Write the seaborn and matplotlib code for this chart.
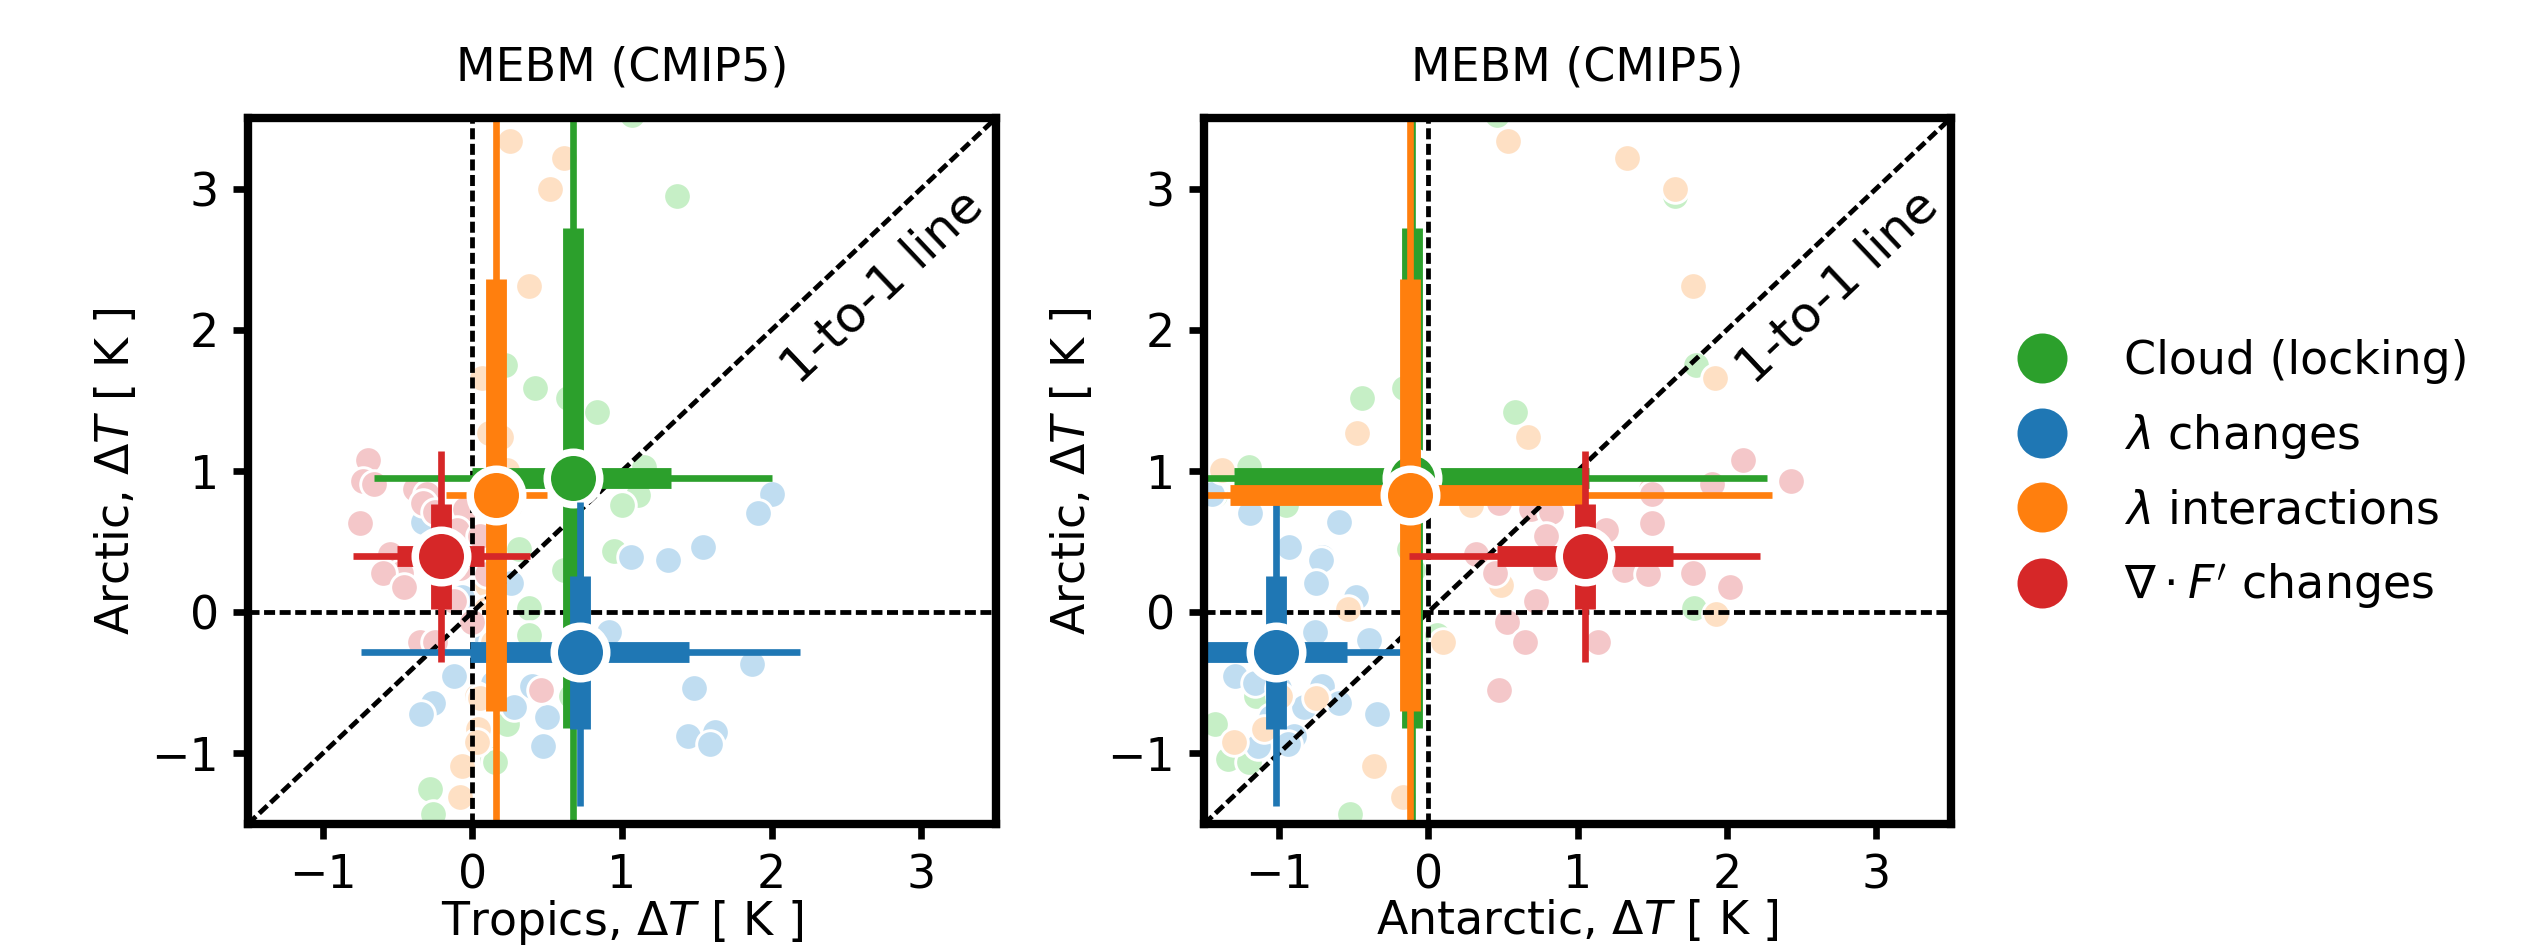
import numpy as np
import pandas as pd
import matplotlib
matplotlib.use("Agg")
import matplotlib.pyplot as plt
from matplotlib.lines import Line2D
import seaborn as sns

# ---------------- data ----------------
categories = ["Cloud (locking)", r"$\lambda$ changes", r"$\lambda$ interactions",
              r"$\nabla\cdot F'$ changes"]
colors = ["#2ca02c", "#1f77b4", "#ff7f0e", "#d62728"]
light_colors = ["#c6efc6", "#c0ddf1", "#fee0c4", "#f4c7c9"]

# individual models (Arctic, Tropics, Antarctic)
cloud_arc = [3.52, 2.95, 1.75, 1.59, 1.52, 1.42, 1.03, 0.83, 0.76, 0.45, 0.43, 0.30,
             0.03, -0.16, -0.59, -0.79, -1.04, -1.06, -1.25, -1.43]
cloud_trop = [1.07, 1.37, 0.22, 0.42, 0.64, 0.83, 1.15, 1.11, 1.00, 0.31, 0.95, 0.61,
              0.38, 0.38, 0.66, 0.23, 0.13, 0.15, -0.28, -0.26]
cloud_ant = [0.46, 1.65, 1.79, -0.16, -0.44, 0.58, -1.20, -1.43, -0.95, -0.13, -1.62, -0.10,
             1.78, 0.06, -1.15, -1.43, -1.34, -1.20, -1.58, -0.52]

lamc_arc = [0.84, 0.70, 0.64, 0.46, 0.39, 0.37, 0.21, 0.11, -0.14, -0.20, -0.37, -0.45,
            -0.50, -0.52, -0.54, -0.64, -0.67, -0.72, -0.745, -0.85, -0.88, -0.93, -0.945]
lamc_trop = [2.00, 1.91, -0.33, 1.54, 1.06, 1.31, 0.26, -0.07, 0.915, 0.10, 1.87, -0.125,
             0.14, 0.40, 1.48, -0.26, 0.28, -0.34, 0.50, 1.62, 1.44, 1.59, 0.47]
lamc_ant = [-1.45, -1.19, -0.60, -0.93, -0.71, -0.72, -0.75, -0.48, -0.76, -0.395, -1.05, -1.29,
            -1.16, -0.71, -1.00, -0.60, -0.83, -0.34, -1.05, -1.10, -0.90, -0.94, -1.14]

lami_arc = [3.34, 3.22, 3.00, 2.31, 1.66, 1.27, 1.24, 1.01, 0.76, 0.19, 0.02, -0.01,
            -0.21, -0.59, -0.61, -0.83, -0.92, -1.09, -1.31]
lami_trop = [0.255, 0.61, 0.52, 0.38, 0.065, 0.11, 0.19, 0.23, 0.25, 0.10, 0.09, 0.12,
             0.14, 0.03, 0.05, 0.04, 0.03, -0.07, -0.08]
lami_ant = [0.535, 1.33, 1.65, 1.77, 1.92, -0.475, 0.67, -1.38, 0.29, 0.49, -0.54, 1.93,
            0.096, -0.99, -0.75, -1.10, -1.30, -0.36, -0.17]

divf_arc = [1.08, 0.93, 0.91, 0.87, 0.84, 0.77, 0.73, 0.71, 0.63, 0.58, 0.54, 0.41,
            0.31, 0.30, 0.28, 0.28, 0.27, 0.18, 0.08, -0.07, -0.21, -0.21, -0.55]
divf_trop = [-0.70, -0.73, -0.66, -0.38, -0.30, -0.33, -0.05, -0.25, -0.75, -0.10, 0.05, -0.55,
             -0.08, -0.20, -0.48, -0.60, 0.10, -0.46, -0.12, 0.00, -0.35, -0.25, 0.46]
divf_ant = [2.11, 2.43, 1.90, 1.49, 1.50, 0.475, 0.69, 0.82, 1.50, 1.19, 0.79, 0.32,
            0.78, 1.31, 0.45, 1.77, 1.47, 2.02, 0.72, 0.53, 0.65, 1.14, 0.475]

# ensemble statistics (order: cloud, lambda changes, lambda interactions, div F')
arc_mean = [0.95, -0.28, 0.83, 0.40]
trop_mean = [0.67, 0.72, 0.16, -0.21]
ant_mean = [-0.105, -1.02, -0.12, 1.05]

arc_lo_wide = [-1.80, -1.37, -1.80, -0.355]
arc_hi_wide = [3.80, 0.78, 3.80, 1.14]
arc_lo_iqr = [-0.82, -0.83, -0.70, 0.02]
arc_hi_iqr = [2.72, 0.255, 2.36, 0.764]

trop_lo_wide = [-0.66, -0.745, -0.174, -0.80]
trop_hi_wide = [2.00, 2.19, 0.50, 0.385]
trop_lo_iqr = [0.00, -0.013, 0.08, -0.505]
trop_hi_iqr = [1.33, 1.45, 0.24, 0.08]

ant_lo_wide = [-1.80, -1.80, -1.80, -0.127]
ant_hi_wide = [2.27, -0.18, 2.30, 2.22]
ant_lo_iqr = [-1.30, -1.70, -1.33, 0.464]
ant_hi_iqr = [1.08, -0.544, 1.066, 1.64]

points_arc = [cloud_arc, lamc_arc, lami_arc, divf_arc]
points_trop = [cloud_trop, lamc_trop, lami_trop, divf_trop]
points_ant = [cloud_ant, lamc_ant, lami_ant, divf_ant]

xlabels = [r"Tropics, $\Delta T$ [ K ]", r"Antarctic, $\Delta T$ [ K ]"]
ylabel = r"Arctic, $\Delta T$ [ K ]"
title = "MEBM (CMIP5)"
ticks = [-1, 0, 1, 2, 3]

# ---------------- style ----------------
sns.set_style("white")
plt.rcParams["font.family"] = ["DejaVu Sans"]
plt.rcParams["mathtext.fontset"] = "dejavusans"
for key in ["text.color", "axes.labelcolor", "xtick.color", "ytick.color"]:
    plt.rcParams[key] = "black"

fig = plt.figure(figsize=(8.45, 3.1667), dpi=300)
ax1 = fig.add_axes([0.0978, 0.1326, 0.2951, 0.7432])
ax2 = fig.add_axes([0.4750, 0.1326, 0.2946, 0.7432])

dash = (0, (2.3, 0.95))
panels = [(ax1, points_trop, trop_mean, trop_lo_wide, trop_hi_wide, trop_lo_iqr, trop_hi_iqr),
          (ax2, points_ant, ant_mean, ant_lo_wide, ant_hi_wide, ant_lo_iqr, ant_hi_iqr)]

for i, (ax, px, xm, xlw, xhw, xli, xhi) in enumerate(panels):
    ax.set_xlim(-1.5, 3.5)
    ax.set_ylim(-1.5, 3.5)
    # individual models
    for k in range(4):
        df = pd.DataFrame({"x": px[k], "y": points_arc[k]})
        sns.scatterplot(data=df, x="x", y="y", ax=ax, color=light_colors[k], s=44,
                        edgecolor="white", linewidth=0.7, zorder=1, legend=False)
    # reference lines
    ax.axhline(0, color="black", lw=1.15, ls=dash, zorder=2)
    ax.axvline(0, color="black", lw=1.15, ls=dash, zorder=2)
    ax.plot([-1.5, 3.5], [-1.5, 3.5], color="black", lw=1.15, ls=dash, zorder=2)
    ax.text(2.74, 2.30, "1-to-1 line", rotation=43.4, rotation_mode="anchor",
            ha="center", va="center", fontsize=12, zorder=3)
    # ensemble statistics
    for k in range(4):
        c = colors[k]
        z = 4 + k
        ax.plot([xlw[k], xhw[k]], [arc_mean[k], arc_mean[k]], color=c, lw=1.6,
                solid_capstyle="butt", zorder=z)
        ax.plot([xm[k], xm[k]], [arc_lo_wide[k], arc_hi_wide[k]], color=c, lw=1.6,
                solid_capstyle="butt", zorder=z)
        ax.plot([xli[k], xhi[k]], [arc_mean[k], arc_mean[k]], color=c, lw=5.0,
                solid_capstyle="butt", zorder=z)
        ax.plot([xm[k], xm[k]], [arc_lo_iqr[k], arc_hi_iqr[k]], color=c, lw=5.0,
                solid_capstyle="butt", zorder=z)
        ax.plot([xm[k]], [arc_mean[k]], marker="o", ms=12.6, mfc=c, mec="white",
                mew=1.8, ls="", zorder=z)
    ax.set_xticks(ticks)
    ax.set_yticks(ticks)
    ax.set_xticklabels([f"\u2212{abs(t)}" if t < 0 else str(t) for t in ticks])
    ax.set_yticklabels([f"\u2212{abs(t)}" if t < 0 else str(t) for t in ticks])
    ax.tick_params(direction="out", length=3.5, width=1.6, labelsize=11, pad=3.5,
                   bottom=True, left=True, color="black", labelcolor="black")
    for s in ax.spines.values():
        s.set_linewidth(2)
        s.set_color("black")
        s.set_zorder(10)
    ax.set_xlabel(xlabels[i], fontsize=11, labelpad=0)
    ax.set_ylabel(ylabel, fontsize=11, labelpad=3)
    ax.set_title(title, fontsize=11, pad=9)

handles = [Line2D([], [], marker="o", ls="", color=colors[k], ms=11) for k in range(4)]
fig.legend(handles, categories, loc="center left", bbox_to_anchor=(0.771, 0.500),
           frameon=False, fontsize=11, handlelength=2.0, handletextpad=0.8,
           labelspacing=0.6, borderpad=0.4)

fig.savefig("out.png", dpi=300)
